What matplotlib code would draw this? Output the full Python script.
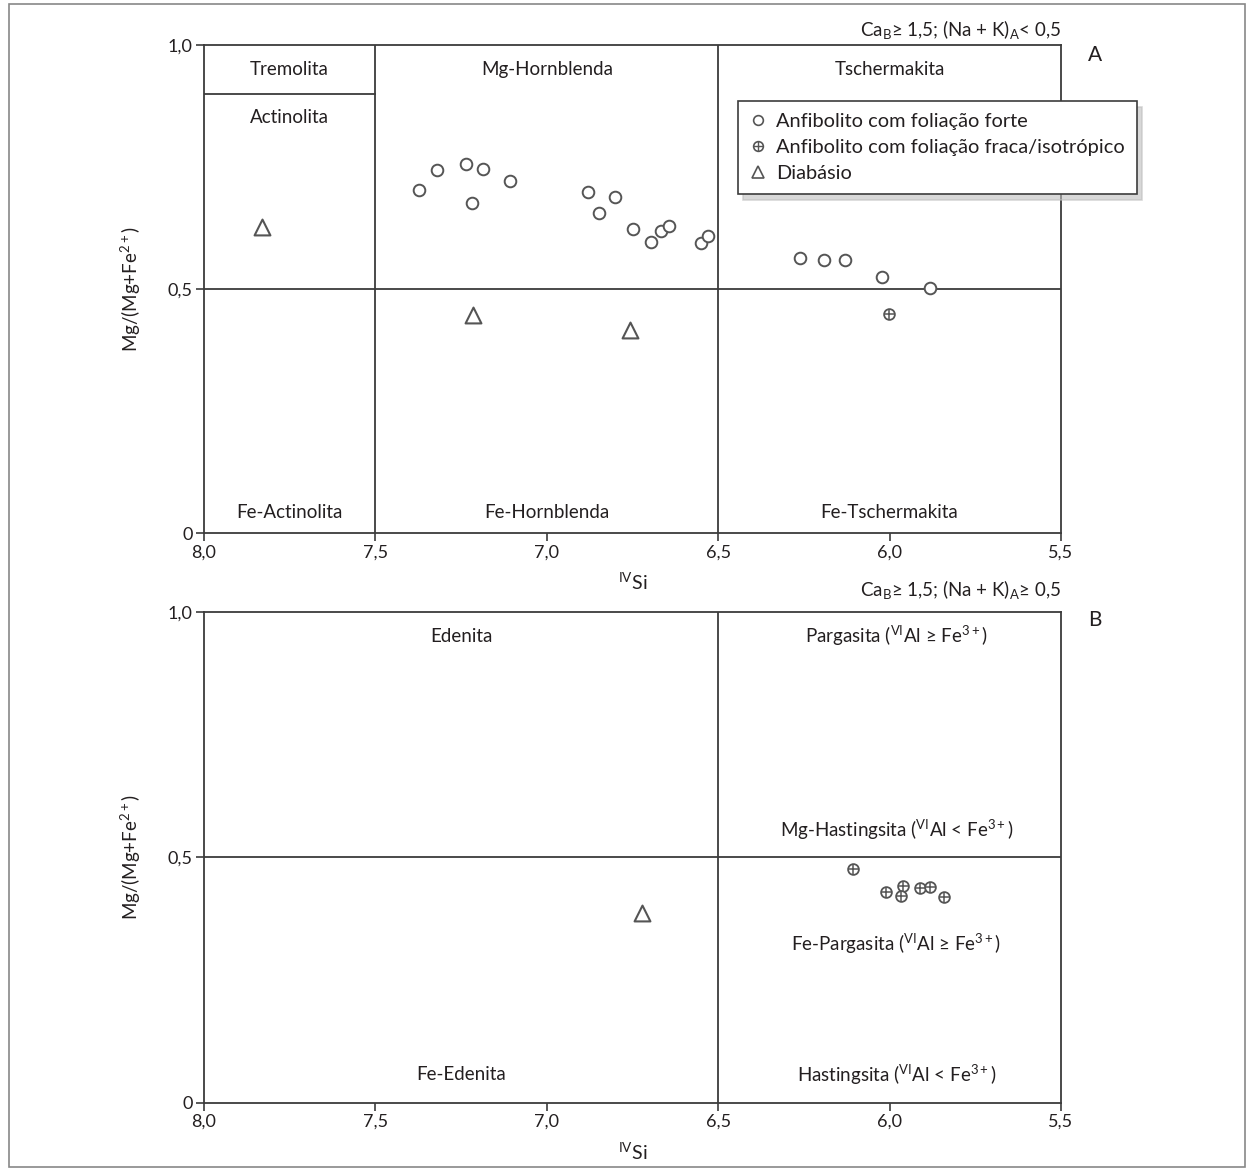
import matplotlib
matplotlib.use("Agg")
import matplotlib.pyplot as plt
from matplotlib.lines import Line2D
from matplotlib.patches import Rectangle

plt.rcParams['font.family'] = ['Lato', 'DejaVu Sans']
plt.rcParams['mathtext.fontset'] = 'custom'
plt.rcParams['mathtext.rm'] = 'Lato'
plt.rcParams['mathtext.it'] = 'Lato:italic'
plt.rcParams['mathtext.bf'] = 'Lato:bold'

# painel A - anfibolito com foliacao forte
forte_si = [7.372, 7.319, 7.236, 7.187, 7.217, 7.107, 6.880, 6.801, 6.849, 6.749,
            6.697, 6.668, 6.643, 6.549, 6.529, 6.261, 6.190, 6.130, 6.022, 5.881]
forte_mg = [0.703, 0.744, 0.756, 0.746, 0.677, 0.721, 0.699, 0.688, 0.656, 0.624,
            0.596, 0.618, 0.630, 0.595, 0.609, 0.564, 0.559, 0.559, 0.525, 0.503]
# anfibolito com foliacao fraca / isotropico
fraca_si_a = [6.003]
fraca_mg_a = [0.448]
fraca_si_b = [6.108, 6.010, 5.960, 5.967, 5.912, 5.881, 5.841]
fraca_mg_b = [0.477, 0.430, 0.442, 0.421, 0.438, 0.440, 0.420]
# diabasio
diab_si_a = [7.831, 7.215, 6.757]
diab_mg_a = [0.627, 0.447, 0.416]
diab_si_b = [6.722]
diab_mg_b = [0.387]

xticks = [8.0, 7.5, 7.0, 6.5, 6.0, 5.5]
xticklabels = ['8,0', '7,5', '7,0', '6,5', '6,0', '5,5']
yticks = [0, 0.5, 1.0]
yticklabels = ['0', '0,5', '1,0']

line_c = '#3c3c3c'
mk_c = '#555555'
txt_c = '#231f20'

fig = plt.figure(figsize=(12.49, 11.71), dpi=100)
fig.patches.append(Rectangle((0.007, 0.003), 0.99, 0.9935, transform=fig.transFigure,
                             fill=False, edgecolor='#888888', lw=1.2))

axA = fig.add_axes([0.1633, 0.5448, 0.6862, 0.4167])
axB = fig.add_axes([0.1633, 0.0581, 0.6862, 0.4193])


def style(ax):
    ax.set_xlim(8.0, 5.5)
    ax.set_ylim(0, 1.0)
    ax.set_xticks(xticks)
    ax.set_xticklabels(xticklabels)
    ax.set_yticks(yticks)
    ax.set_yticklabels(yticklabels)
    ax.tick_params(direction='out', length=6, width=1.2, color=line_c,
                   labelsize=13, labelcolor=txt_c, pad=2)
    for s in ax.spines.values():
        s.set_color(line_c)
        s.set_linewidth(1.3)
    ax.set_xlabel(r'$^{\mathrm{IV}}$Si', fontsize=14, color=txt_c, labelpad=8)
    ax.set_ylabel(r'Mg/(Mg+Fe$^{2+}$)', fontsize=13.5, color=txt_c, labelpad=18)
    ax.axhline(0.5, color=line_c, lw=1.3)
    ax.axvline(6.5, color=line_c, lw=1.3)


def circles(ax, x, y):
    ax.scatter(x, y, s=70, marker='o', facecolors='white', edgecolors=mk_c,
               linewidths=1.4, zorder=3)


def pluscircles(ax, x, y):
    ax.scatter(x, y, s=60, marker='o', facecolors='white', edgecolors=mk_c,
               linewidths=1.3, zorder=3)
    ax.scatter(x, y, s=60, marker='+', color=mk_c, linewidths=1.1, zorder=4)


def triangles(ax, x, y):
    ax.scatter(x, y, s=130, marker='^', facecolors='white', edgecolors=mk_c,
               linewidths=1.5, zorder=3)


style(axA)
axA.axvline(7.5, color=line_c, lw=1.3)
axA.plot([8.0, 7.5], [0.9, 0.9], color=line_c, lw=1.3)
circles(axA, forte_si, forte_mg)
pluscircles(axA, fraca_si_a, fraca_mg_a)
triangles(axA, diab_si_a, diab_mg_a)

kw = dict(ha='center', va='center', fontsize=13.5, color=txt_c)
axA.text(7.75, 0.949, 'Tremolita', **kw)
axA.text(7.75, 0.852, 'Actinolita', **kw)
axA.text(7.0, 0.949, 'Mg-Hornblenda', **kw)
axA.text(6.0, 0.949, 'Tschermakita', **kw)
axA.text(7.75, 0.043, 'Fe-Actinolita', **kw)
axA.text(7.0, 0.043, 'Fe-Hornblenda', **kw)
axA.text(6.0, 0.043, 'Fe-Tschermakita', **kw)
axA.text(1.0, 1.031, r'Ca$_{\mathrm{B}}$≥ 1,5; (Na + K)$_{\mathrm{A}}$< 0,5',
         transform=axA.transAxes, ha='right', va='center', fontsize=13.5, color=txt_c)
axA.text(1.04, 0.98, 'A', transform=axA.transAxes, ha='center', va='center',
         fontsize=15, color=txt_c)

h1 = Line2D([], [], ls='none', marker='o', ms=7, mfc='white', mec=mk_c, mew=1.2)
h2a = Line2D([], [], ls='none', marker='o', ms=7, mfc='white', mec=mk_c, mew=1.2)
h2b = Line2D([], [], ls='none', marker='+', ms=7, color=mk_c, mew=1.0)
h3 = Line2D([], [], ls='none', marker='^', ms=9, mfc='white', mec=mk_c, mew=1.2)
leg = axA.legend([h1, (h2a, h2b), h3],
                 ['Anfibolito com foliação forte',
                  'Anfibolito com foliação fraca/isotrópico',
                  'Diabásio'],
                 loc='upper left', bbox_to_anchor=(0.623, 0.885), borderaxespad=0,
                 fontsize=14.4, frameon=True, fancybox=False, handlelength=0.8,
                 handletextpad=0.5, borderpad=0.6, labelspacing=0.45,
                 shadow={'color': '0.75', 'alpha': 0.6, 'ox': 4, 'oy': -4})
leg.get_frame().set_edgecolor(line_c)
leg.get_frame().set_linewidth(1.2)
for t in leg.get_texts():
    t.set_color(txt_c)
leg.set_clip_on(False)

style(axB)
pluscircles(axB, fraca_si_b, fraca_mg_b)
triangles(axB, diab_si_b, diab_mg_b)
axB.text(7.25, 0.951, 'Edenita', **kw)
axB.text(5.98, 0.951, r'Pargasita ($^{\mathrm{VI}}$Al ≥ Fe$^{3+}$)', **kw)
axB.text(5.98, 0.556, r'Mg-Hastingsita ($^{\mathrm{VI}}$Al < Fe$^{3+}$)', **kw)
axB.text(5.98, 0.324, r'Fe-Pargasita ($^{\mathrm{VI}}$Al ≥ Fe$^{3+}$)', **kw)
axB.text(7.25, 0.057, 'Fe-Edenita', **kw)
axB.text(5.98, 0.057, r'Hastingsita ($^{\mathrm{VI}}$Al < Fe$^{3+}$)', **kw)
axB.text(1.0, 1.045, r'Ca$_{\mathrm{B}}$≥ 1,5; (Na + K)$_{\mathrm{A}}$≥ 0,5',
         transform=axB.transAxes, ha='right', va='center', fontsize=13.5, color=txt_c)
axB.text(1.04, 0.984, 'B', transform=axB.transAxes, ha='center', va='center',
         fontsize=15, color=txt_c)

fig.savefig('out.png', dpi=100)
